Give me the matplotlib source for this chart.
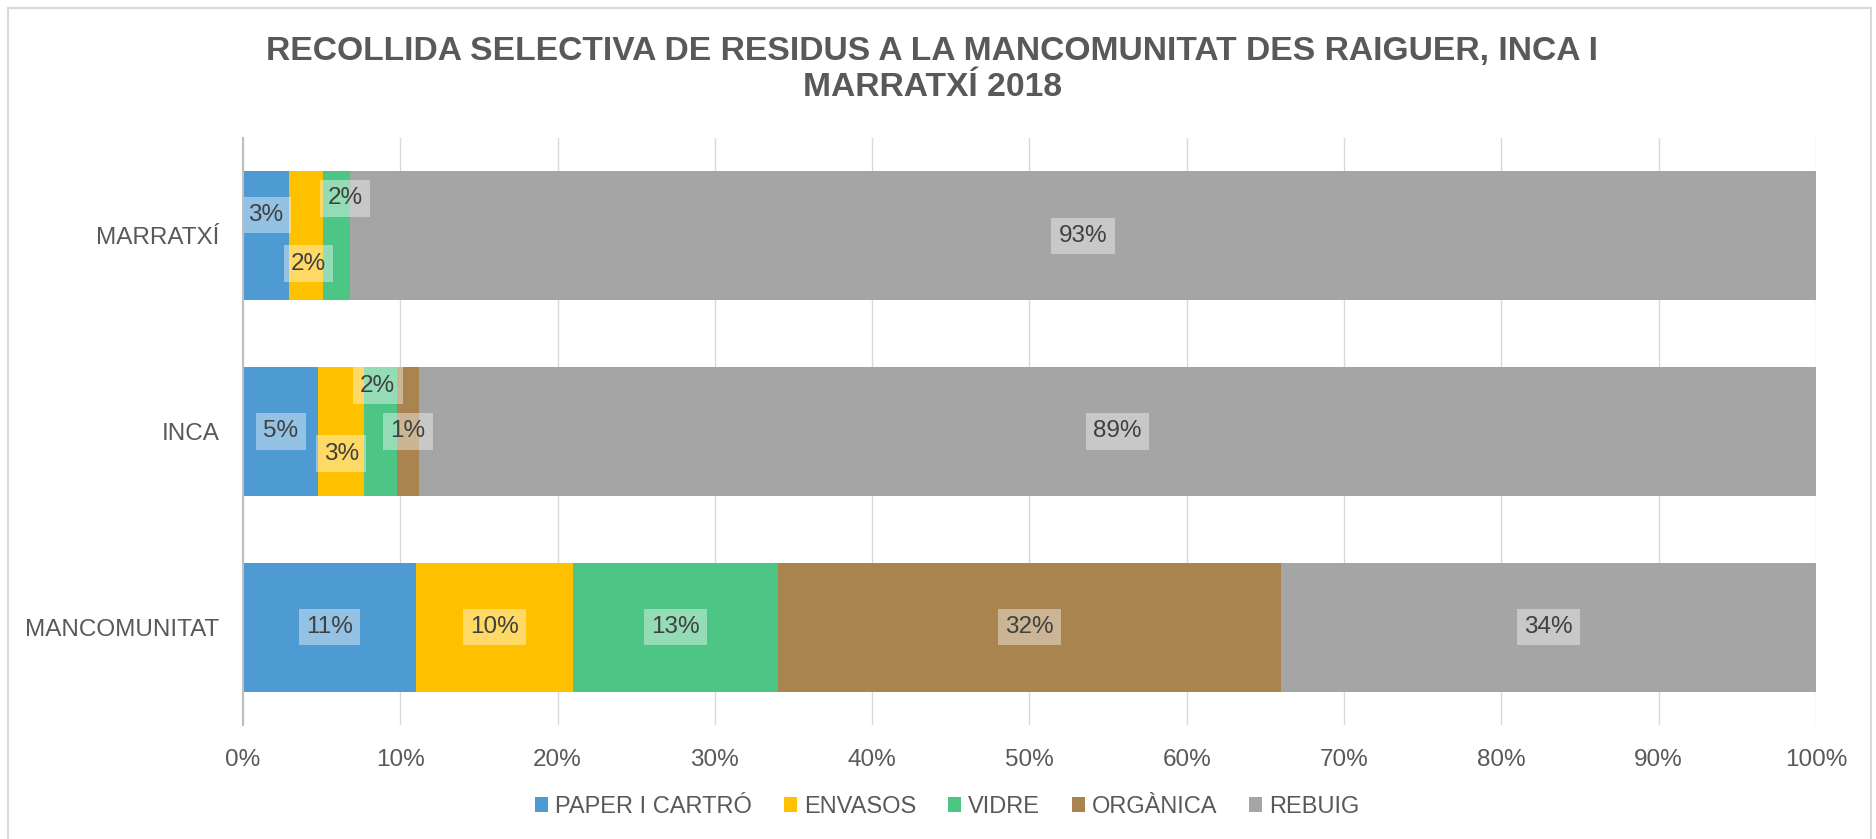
import matplotlib.pyplot as plt
from matplotlib.patches import Rectangle
from matplotlib.ticker import PercentFormatter

plt.rcParams['font.family'] = ['Liberation Sans', 'DejaVu Sans']

# dades (percentatges)
llocs = ['MANCOMUNITAT', 'INCA', 'MARRATXÍ']
paper = [11.0, 4.8, 2.9]
envasos = [10.0, 2.9, 2.2]
vidre = [13.0, 2.1, 1.7]
organica = [32.0, 1.4, 0.0]
rebuig = [34.0, 88.8, 93.2]

series = ['PAPER I CARTRÓ', 'ENVASOS', 'VIDRE', 'ORGÀNICA', 'REBUIG']
colors = ['#4E9AD3', '#FFC000', '#4DC584', '#AA844E', '#A5A5A5']
valors = [paper, envasos, vidre, organica, rebuig]

# desplaçament de les etiquetes petites (punts), com fa Excel
desp = {(2, 0): (0, 15), (2, 1): (2, -20), (2, 2): (6, 27),
        (1, 1): (0, -16), (1, 2): (-2, 33)}

fig = plt.figure(figsize=(18.76, 8.39), dpi=100)
ax = fig.add_axes([0.1295, 0.1359, 0.8385, 0.6996])

ypos = range(len(llocs))
left = [0.0] * len(llocs)
for j, (nom, vals, col) in enumerate(zip(series, valors, colors)):
    ax.barh(ypos, vals, left=left, height=0.66, color=col, label=nom, zorder=2)
    for i, v in enumerate(vals):
        if v > 0:
            dx, dy = desp.get((i, j), (0, 0))
            ax.annotate(f'{round(v):.0f}%', (left[i] + v / 2, i),
                        xytext=(dx, dy), textcoords='offset points',
                        ha='center', va='center', fontsize=17.5, color='#404040',
                        bbox=dict(boxstyle='square,pad=0.3', fc='white',
                                  ec='none', alpha=0.4), zorder=3)
    left = [a + b for a, b in zip(left, vals)]

ax.set_xlim(0, 100)
ax.set_ylim(-0.5, 2.5)
ax.set_xticks(range(0, 101, 10))
ax.xaxis.set_major_formatter(PercentFormatter(decimals=0))
ax.set_yticks(list(ypos))
ax.set_yticklabels(llocs)
ax.tick_params(axis='both', length=0, labelsize=17.5, colors='#595959')
ax.tick_params(axis='x', pad=17)
ax.tick_params(axis='y', pad=17)
ax.grid(axis='x', color='#D9D9D9', linewidth=1, zorder=0)
for s in ['top', 'right', 'bottom']:
    ax.spines[s].set_visible(False)
ax.spines['left'].set_color('#BFBFBF')
ax.spines['left'].set_linewidth(1.5)
ax.spines['left'].set_zorder(4)

fig.text(0.497, 0.917,
         'RECOLLIDA SELECTIVA DE RESIDUS A LA MANCOMUNITAT DES RAIGUER, INCA I\nMARRATXÍ 2018',
         ha='center', va='center', fontsize=24.2, fontweight='bold', color='#595959',
         linespacing=1.2)

fig.legend(loc='center', bbox_to_anchor=(0.505, 0.038), ncol=5, frameon=False,
           fontsize=17, handlelength=0.55, handleheight=0.6, handletextpad=0.3,
           columnspacing=1.35, labelcolor='#595959')

fig.patches.append(Rectangle((8 / 1876, -0.01), 1863 / 1876, 1 - 8 / 839 + 0.01,
                             transform=fig.transFigure, fill=False,
                             ec='#D9D9D9', lw=1.5))

fig.savefig('out.png', dpi=100)
